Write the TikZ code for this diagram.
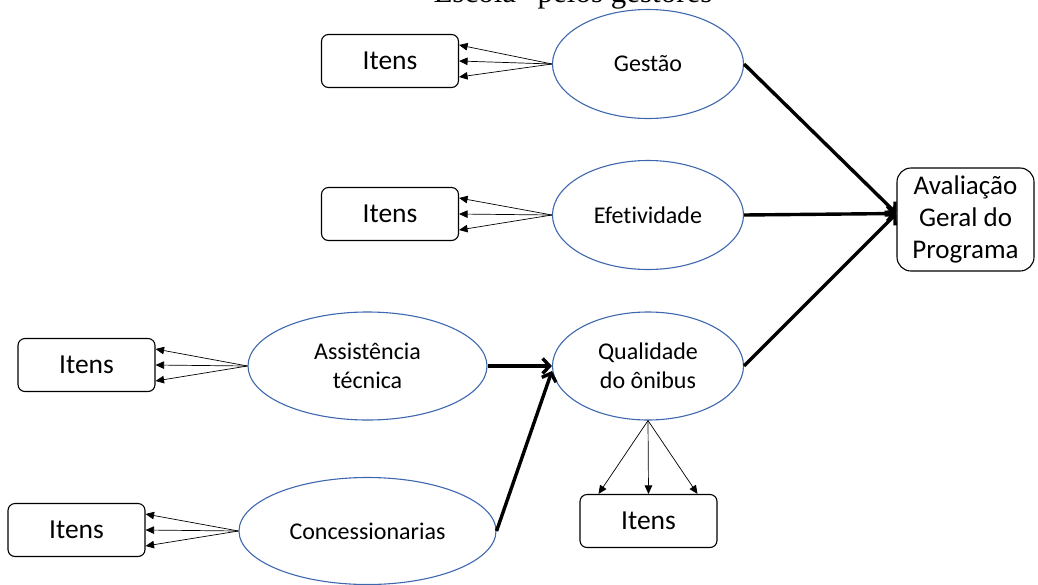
\documentclass[tikz,border=0pt]{standalone}
\usepackage{fontspec}
\setmainfont{Carlito}[Ligatures=NoCommon]
\newfontfamily\titlefont{Liberation Serif}
\usetikzlibrary{shapes.geometric,arrows.meta}
\definecolor{ellblue}{HTML}{3E67AE}
\begin{document}
\begin{tikzpicture}[x=1pt,y=-1pt,
  itembox/.style={draw, rounded corners=7pt, line width=1.1pt, inner sep=0pt,
    minimum width=137pt, minimum height=53pt, font=\fontsize{27.5}{32}\selectfont},
  construct/.style={draw=ellblue, ellipse, line width=1.1pt, inner sep=0pt,
    align=center, font=\fontsize{24}{29}\selectfont},
  thinarrow/.style={-{Triangle[length=8.5pt,width=7.5pt]}, line width=0.7pt},
  thickarrow/.style={-{Straight Barb[length=7pt,width=15pt]}, line width=3.4pt},
]
\clip (0,0) rectangle (1038,584);

% heading, partly cut by the page edge
\node[font=\titlefont\fontsize{31}{36}\selectfont, anchor=base, inner sep=0pt]
  (title) at (573,2.5) {Escola” pelos gestores};

% constructs
\node[construct, minimum width=191pt, minimum height=109pt] (gest) at (648,64) {Gestão};
\node[construct, minimum width=191pt, minimum height=109pt] (efet) at (648,215) {Efetividade};
\node[construct, minimum width=239pt, minimum height=108pt] (assist) at (367.5,366) {Assistência\\técnica};
\node[construct, minimum width=191pt, minimum height=108pt] (qual) at (648,366) {Qualidade\\do ônibus};
\node[construct, minimum width=257pt, minimum height=107pt] (conc) at (367.5,531) {Concessionarias};

% indicator boxes
\node[itembox] (it1) at (390,61) {Itens};
\node[itembox] (it2) at (390,214) {Itens};
\node[itembox] (it3) at (86.5,365) {Itens};
\node[itembox] (it4) at (648.5,521) {Itens};
\node[itembox] (it5) at (76.5,530) {Itens};

% overall evaluation
\node[draw, rounded corners=14pt, line width=1.1pt, inner sep=0pt,
  minimum width=137pt, minimum height=103pt, align=center,
  font=\fontsize{27}{32}\selectfont] (aval) at (965.5,219.5)
  {Avaliação\\Geral do\\Programa};

% construct -> items
\foreach \c/\b in {gest/it1, efet/it2, assist/it3, conc/it5} {
  \draw[thinarrow] (\c.west) -- ([yshift=16pt]\b.east);
  \draw[thinarrow] (\c.west) -- (\b.east);
  \draw[thinarrow] (\c.west) -- ([yshift=-16pt]\b.east);
}
\draw[thinarrow] (qual.south) -- ([xshift=-50pt]it4.north);
\draw[thinarrow] (qual.south) -- (it4.north);
\draw[thinarrow] (qual.south) -- ([xshift=49pt]it4.north);

% structural paths
\coordinate (avin) at ([yshift=6pt]aval.west);
\draw[thickarrow] (gest.east) -- (avin);
\draw[thickarrow] (efet.east) -- (avin);
\draw[thickarrow] (qual.east) -- (avin);
\draw[thickarrow] (assist.east) -- (qual.west);
\draw[thickarrow] (conc.east) -- ([yshift=-5pt]qual.west);
\end{tikzpicture}
\end{document}
